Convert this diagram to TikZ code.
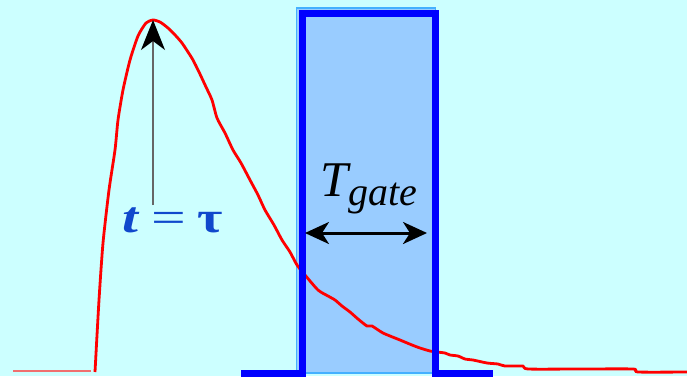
\documentclass[tikz,border=0pt]{standalone}
\usepackage{fontspec}
\setmainfont{Liberation Serif}
\usetikzlibrary{arrows.meta}
\definecolor{bgc}{HTML}{CCFFFF}
\definecolor{boxfill}{HTML}{99CCFF}
\definecolor{boxedge}{HTML}{44B0FF}
\definecolor{pulse}{HTML}{0000FF}
\definecolor{sig}{HTML}{FF0000}
\definecolor{sigflat}{HTML}{F07070}
\definecolor{labblue}{HTML}{1048CC}
\definecolor{axgray}{HTML}{666666}
\tikzset{
  gatebox/.style={fill=boxfill, draw=boxedge, line width=1.2pt},
  pulseline/.style={draw=pulse, line width=6.5pt, line join=miter},
  signal/.style={draw=sig, line width=2.8pt, line join=round},
  peakarrow/.style={draw=axgray, line width=1.3pt, -{Stealth[length=30pt,width=24pt,inset=9pt,fill=black,color=black]}},
  widtharrow/.style={draw=black, line width=3pt, {Stealth[length=24pt,width=22pt,inset=7pt]}-{Stealth[length=24pt,width=22pt,inset=7pt]}},
}
\begin{document}
\begin{tikzpicture}[x=1pt,y=-1pt]
\fill[bgc] (0,0) rectangle (687,376);
\useasboundingbox (0,0) rectangle (687,376);
% gate box
\path[gatebox] (296.5,8) rectangle (435.5,373);
% signal
\draw[sigflat, line width=1.6pt] (13,371) -- (91,371);
\draw[signal] plot[smooth, tension=0.4] coordinates {(95,372) (99,300) (103,243) (109,190) (115,150) (118,120) (123,90) (130,60) (138,36) (146,23) (153,20) (160,22) (168,28) (176,36) (182,43) (188,52) (193,60) (199,72) (206,87) (212,100) (217,118) (225,133) (233,150) (241,163) (250,180) (258,195) (265,210) (274,225) (282,240) (290,252) (297,265) (305,275) (318,290) (328,296) (335,300) (342,306) (350,312) (358,319) (367,326) (372,326) (383,333) (400,340) (412,345) (420,348) (430,351) (437,352) (445,353) (450,355) (458,356) (465,359) (473,360) (487,363) (498,364) (505,366) (523,366) (528,369) (580,369) (633,369) (638,372) (687,372)};
% pulse
\draw[pulseline] (241,373.5) -- (302.5,373.5) -- (302.5,13.5) -- (435.5,13.5) -- (435.5,373.5) -- (493,373.5);
% peak annotation
\coordinate (peak) at (153,20);
\node[text=labblue, font=\fontsize{44}{48}\selectfont, anchor=base west, inner sep=0pt] (tau) at (122,232) {\scalebox{1.3}[1]{\bfseries\itshape t}\hspace{13pt}\scalebox{1.4}[1]{=}\hspace{12pt}\scalebox{1.25}[1]{\bfseries τ}};
\draw[peakarrow] ([yshift=2pt]tau.north -| peak) -- (peak);
% gate width
\node[font=\fontsize{50}{54}\selectfont, anchor=base west, inner sep=0pt] (tg) at (320,196) {\itshape T\raisebox{-9pt}{\fontsize{40}{44}\selectfont gate}};
\coordinate (gl) at (305,233);
\coordinate (gr) at (427,233);
\draw[widtharrow] (gl) -- (gr);
\end{tikzpicture}
\end{document}
